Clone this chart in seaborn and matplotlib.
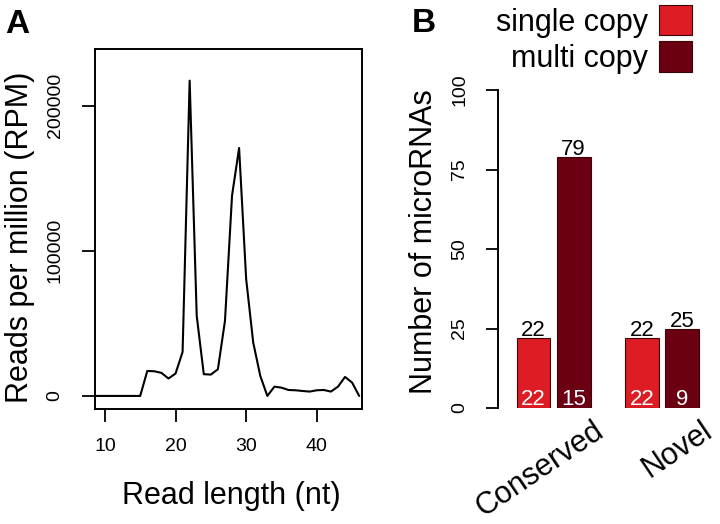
import matplotlib
matplotlib.use("Agg")
import matplotlib.pyplot as plt
import seaborn as sns
import pandas as pd
from matplotlib.patches import Patch
from matplotlib.transforms import blended_transform_factory

# ---- Data ----
read_length = [8, 9, 10, 11, 12, 13, 14, 15, 16, 17, 18, 19, 20, 21, 22, 23, 24, 25, 26, 27,
               28, 29, 30, 31, 32, 33, 34, 35, 36, 37, 38, 39, 40, 41, 42, 43, 44, 45, 46]
rpm = [0, 0, 0, 0, 0, 0, 0, 0, 17200, 17000, 15900, 12000, 15400, 30300, 217200, 55200,
       15000, 14700, 18400, 51700, 138000, 170800, 80500, 36800, 13800, 0, 6400, 5700,
       4100, 3900, 3400, 3000, 3900, 4100, 3000, 6400, 13100, 9200, 0]

categories = ["Conserved", "Novel"]
copy_types = ["single copy", "multi copy"]
total_counts = {"single copy": [22, 22], "multi copy": [79, 25]}
inner_counts = {"single copy": [22, 22], "multi copy": [15, 9]}
colors = {"single copy": "#DE1C24", "multi copy": "#6B0013"}

sns.set_theme(style="white")
plt.rcParams["font.family"] = ["Liberation Sans", "DejaVu Sans"]
plt.rcParams.update({"text.color": "black", "axes.labelcolor": "black",
                     "xtick.color": "black", "ytick.color": "black"})

fig = plt.figure(figsize=(7.2, 5.24), dpi=100)
W, H = 720, 524

def ax_rect(x0, y0, x1, y1):
    return [x0 / W, 1 - y1 / H, (x1 - x0) / W, (y1 - y0) / H]

# ---- Panel A ----
axA = fig.add_axes(ax_rect(95, 49, 362, 409))
dfA = pd.DataFrame({"len": read_length, "rpm": rpm})
sns.lineplot(data=dfA, x="len", y="rpm", ax=axA, color="black", linewidth=1.5)
axA.set_xlim(8.6, 46.4)
axA.set_ylim(-9000, 239000)
axA.set_xticks([10, 20, 30, 40])
axA.set_xticklabels(["10", "20", "30", "40"])
axA.set_yticks([0, 100000, 200000])
axA.set_yticklabels(["0", "100000", "200000"], rotation=90, va="center")
axA.tick_params(axis="x", direction="out", length=9, width=1.3, pad=12, labelsize=14,
                bottom=True)
axA.tick_params(axis="y", direction="out", length=9.5, width=1.3, pad=13, labelsize=14,
                left=True)
for s in axA.spines.values():
    s.set_visible(True)
    s.set_linewidth(1.4)
    s.set_color("black")
axA.set_xlabel("Read length (nt)", fontsize=22)
axA.set_ylabel("Reads per million (RPM)", fontsize=22)
axA.xaxis.set_label_coords(0.511, -0.2)
axA.yaxis.set_label_coords(-0.225, 0.478)
fig.text(5 / W, 1 - 33 / H, "A", fontsize=24, fontweight="bold", ha="left", va="baseline")

# ---- Panel B ----
axB = fig.add_axes(ax_rect(498, 49, 712, 408))
rows = []
for t in copy_types:
    for c, v in zip(categories, total_counts[t]):
        rows.append({"category": c, "type": t, "count": v})
dfB = pd.DataFrame(rows)
sns.barplot(data=dfB, x="category", y="count", hue="type", order=categories,
            hue_order=copy_types, palette=colors, ax=axB, width=0.738, gap=0.157,
            edgecolor="#3a0508", linewidth=0.8, saturation=1)
axB.set_xlim(-0.512, 1.458)
axB.set_ylim(0, 112.9)
axB.set_yticks([0, 25, 50, 75, 100])
axB.set_yticklabels(["0", "25", "50", "75", "100"], rotation=90, va="center")
axB.tick_params(axis="y", direction="out", length=9, width=1.3, pad=12.5, left=True,
                labelsize=14)
axB.tick_params(axis="x", length=0, bottom=False, labelbottom=False)
for k in ["top", "right", "bottom"]:
    axB.spines[k].set_visible(False)
axB.spines["left"].set_bounds(0, 100)
axB.spines["left"].set_linewidth(1.4)
axB.spines["left"].set_color("black")
axB.set_xlabel("")
axB.set_ylabel("Number of microRNAs", fontsize=22)
axB.yaxis.set_label_coords(-0.276, 0.464)

# value labels
for cont, t in zip(axB.containers, copy_types):
    for bar, tot, inn in zip(cont, total_counts[t], inner_counts[t]):
        xc = bar.get_x() + bar.get_width() / 2
        axB.text(xc, bar.get_height() + 0.6, str(tot), ha="center", va="baseline",
                 fontsize=16, color="black")
        axB.text(xc, 0.8, str(inn), ha="center", va="baseline", fontsize=16, color="white")

# category labels
trans = blended_transform_factory(axB.transData, axB.transAxes)
for i, c in enumerate(categories):
    axB.text(i + 0.475, -0.075, c, transform=trans, rotation=34, rotation_mode="anchor",
             ha="right", va="baseline", fontsize=22, color="black")

# legend
handles = [Patch(facecolor=colors[t], edgecolor="#3a0508", linewidth=0.8) for t in copy_types]
axB.get_legend().remove()
fig.legend(handles, copy_types, loc="upper right", bbox_to_anchor=(692 / W, 1 - 5 / H),
           frameon=False, markerfirst=False, fontsize=22, handlelength=1.08,
           handleheight=1.15, labelspacing=0.12, handletextpad=0.35, borderpad=0,
           borderaxespad=0)
fig.text(412 / W, 1 - 32 / H, "B", fontsize=24, fontweight="bold", ha="left", va="baseline")

fig.savefig("out.png", dpi=100, facecolor="white")
